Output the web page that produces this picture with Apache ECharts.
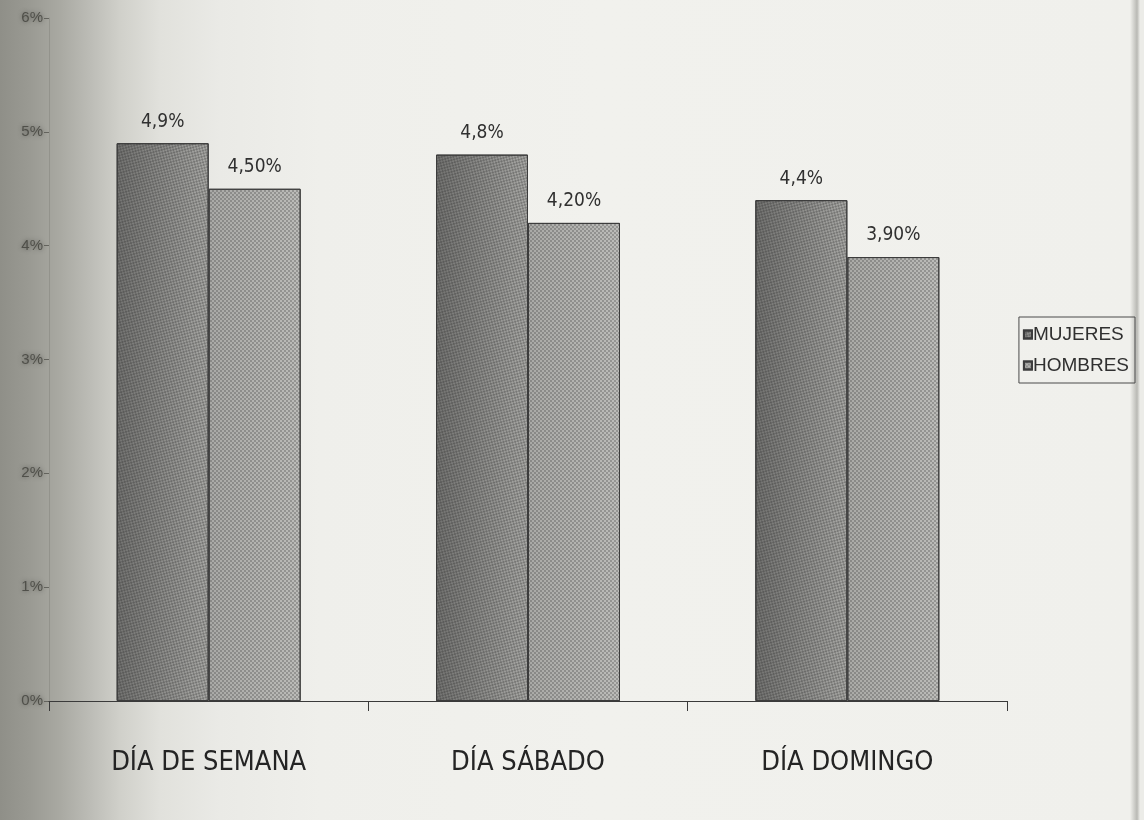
<!DOCTYPE html>
<html>
<head>
<meta charset="utf-8">
<script src="https://cdn.jsdelivr.net/npm/echarts@6/dist/echarts.min.js"></script>
<style>
  html, body { margin: 0; padding: 0; }
  body {
    width: 1144px; height: 820px; overflow: hidden;
    background: linear-gradient(to right, #8f8f88 0px, #9a9a93 30px, #a9a9a2 60px, #bcbcb6 90px, #d0d0ca 120px, #e1e1dc 160px, #eaeae6 220px, #efefeb 320px, #f1f1ed 600px, #f0f0ec 1130px, #b9b9b4 1137px, #ecece8 1140px);
  }
  #chart { width: 1144px; height: 820px; }
</style>
</head>
<body>
<div id="chart"></div>
<script>
// Categories and values (percent)
const categories = ['DÍA DE SEMANA', 'DÍA SÁBADO', 'DÍA DOMINGO'];
const mujeres = [4.9, 4.8, 4.4];
const hombres = [4.5, 4.2, 3.9];
const mujeresLabels = ['4,9%', '4,8%', '4,4%'];
const hombresLabels = ['4,50%', '4,20%', '3,90%'];
const yTicks = ['0%', '1%', '2%', '3%', '4%', '5%', '6%'];

const narrow = '"Liberation Sans Narrow", "DejaVu Sans Condensed", "Liberation Sans", sans-serif';

const chart = echarts.init(document.getElementById('chart'), null, { renderer: 'canvas' });

// fine checker dots that give the bars a halftone look
function dither(color) {
  return {
    symbol: 'rect',
    symbolSize: 1,
    color: color,
    dashArrayX: [[2, 2], [0, 2, 2, 0]],
    dashArrayY: [2, 0]
  };
}

function barSeries(name, values, labels, c1, c2, dotColor) {
  return {
    name: name,
    type: 'bar',
    data: values,
    barWidth: 92,
    barGap: '0%',
    itemStyle: {
      color: new echarts.graphic.LinearGradient(0, 0, 1, 0, [
        { offset: 0, color: c1 },
        { offset: 1, color: c2 }
      ]),
      borderColor: '#3c3c3c',
      borderWidth: 1,
      decal: dither(dotColor)
    },
    label: {
      show: true,
      position: 'top',
      distance: 12,
      fontFamily: narrow,
      fontSize: 19,
      color: '#303030',
      formatter: p => labels[p.dataIndex]
    }
  };
}

chart.setOption({
  backgroundColor: 'transparent',
  aria: { enabled: true, decal: { show: true } },
  animation: false,
  grid: { left: 49, right: 137, top: 18, bottom: 119 },
  legend: {
    orient: 'vertical',
    right: 9,
    top: 317,
    padding: [8, 6, 8, 4],
    itemGap: 12,
    itemWidth: 8,
    itemHeight: 8,
    icon: 'rect',
    borderColor: '#4a4a4a',
    borderWidth: 1,
    textStyle: { fontFamily: '"Liberation Sans", Arial, sans-serif', fontSize: 19, color: '#303030', padding: [0, 0, 0, -4] },
    data: ['MUJERES', 'HOMBRES']
  },
  xAxis: {
    type: 'category',
    data: categories,
    axisLine: { lineStyle: { color: '#3a3a3a', width: 1.2 } },
    axisTick: { show: true, length: 10, lineStyle: { color: '#3a3a3a' } },
    axisLabel: {
      margin: 48,
      fontFamily: narrow,
      fontSize: 27,
      color: '#242424'
    }
  },
  yAxis: {
    type: 'value',
    min: 0,
    max: 6,
    interval: 1,
    splitLine: { show: false },
    axisLine: { show: true, lineStyle: { color: 'rgba(80,80,75,0.2)' } },
    axisTick: { show: true, length: 5, lineStyle: { color: 'rgba(60,60,55,0.6)' } },
    axisLabel: {
      margin: 6,
      fontSize: 15,
      color: 'rgba(55,55,50,0.7)',
      textShadowColor: 'rgba(55,55,50,0.9)',
      textShadowBlur: 4,
      formatter: v => yTicks[Math.round(v)]
    }
  },
  series: [
    barSeries('MUJERES', mujeres, mujeresLabels, '#727270', '#a8a8a5', 'rgba(40,40,40,0.35)'),
    barSeries('HOMBRES', hombres, hombresLabels, '#a9a9a6', '#bcbcb9', 'rgba(60,60,60,0.3)')
  ]
});
</script>
</body>
</html>
